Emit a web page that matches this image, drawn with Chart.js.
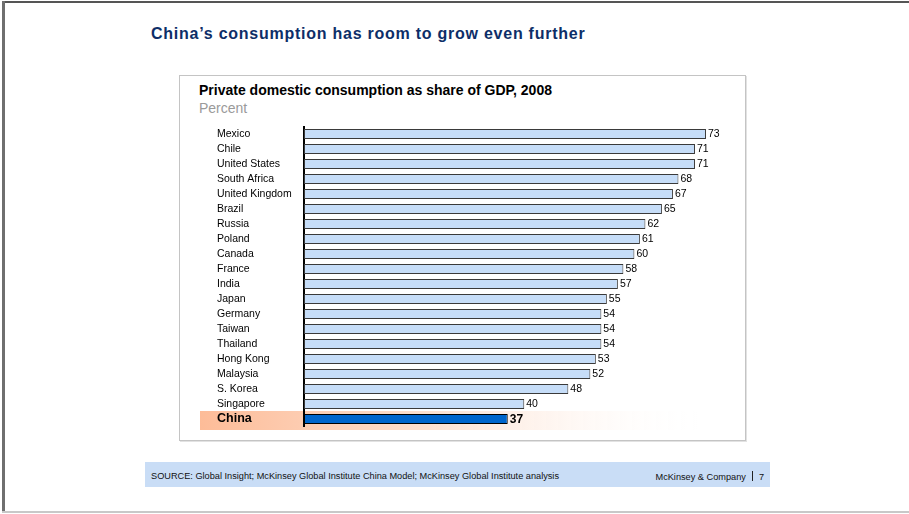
<!DOCTYPE html>
<html>
<head>
<meta charset="utf-8">
<script src="https://cdn.jsdelivr.net/npm/chart.js@4.4.1/dist/chart.umd.min.js"></script>
<style>
  html, body { margin: 0; padding: 0; background: #fff; }
  body { width: 909px; height: 514px; position: relative; overflow: hidden; font-family: "Liberation Sans", Arial, sans-serif; }
  .page-top { position: absolute; left: 2px; top: 1px; width: 907px; height: 2px; background: #555; }
  .page-left { position: absolute; left: 2px; top: 1px; width: 3px; height: 512px; background: #6f6f6f; }
  .page-bottom { position: absolute; left: 2px; top: 511px; width: 907px; height: 2px; background: #c8c8c8; }
  .headline { position: absolute; left: 151px; top: 25px; font-size: 16px; font-weight: bold; letter-spacing: 0.75px; color: #0d2e68; }
  .frame { position: absolute; left: 179px; top: 75px; width: 565px; height: 364px; border: 1px solid #c4c4c4; box-shadow: 1px 1px 0 #e2e2e2; }
  .chart-title { position: absolute; left: 199px; top: 82px; font-size: 14px; font-weight: bold; color: #000; }
  .chart-unit { position: absolute; left: 199px; top: 100px; font-size: 14px; color: #9a9a9a; }
  .footer { position: absolute; left: 145px; top: 462px; width: 625px; height: 25px; background: #c9ddf6; font-size: 9.2px; color: #111; }
  .footer .src { position: absolute; left: 6px; top: 9px; }
  .footer .brand { position: absolute; right: 6px; top: 9px; }
  .footer .sep { display: inline-block; width: 1px; height: 10px; background: #222; margin: 0 6px; vertical-align: -1px; }
  canvas { position: absolute; left: 0; top: 0; }
</style>
</head>
<body>
<div class="page-top"></div>
<div class="page-left"></div>
<div class="page-bottom"></div>
<div class="headline">China’s consumption has room to grow even further</div>
<div class="frame"></div>
<div class="chart-title">Private domestic consumption as share of GDP, 2008</div>
<div class="chart-unit">Percent</div>
<div class="footer">
  <span class="src">SOURCE: Global Insight; McKinsey Global Institute China Model; McKinsey Global Institute analysis</span>
  <span class="brand">McKinsey &amp; Company<span class="sep"></span>7</span>
</div>
<canvas id="consumptionChart" width="909" height="514"></canvas>
<script>
"use strict";

// countries, top to bottom
const countries = [
  "Mexico", "Chile", "United States", "South Africa", "United Kingdom",
  "Brazil", "Russia", "Poland", "Canada", "France", "India", "Japan",
  "Germany", "Taiwan", "Thailand", "Hong Kong", "Malaysia", "S. Korea",
  "Singapore", "China"
];

// private consumption, % of GDP
const shareOfGdp = [73, 71, 71, 68, 67, 65, 62, 61, 60, 58, 57, 55, 54, 54, 54, 53, 52, 48, 40, 37];

const highlight = "China";

const barFill = countries.map((c) => (c === highlight ? "#0066cc" : "#c6ddf8"));
const barEdge = countries.map((c) => (c === highlight ? "#000000" : "#3a3a3a"));

// peach band behind the highlighted row (drawn first so the label sits on top)
const highlightBand = {
  id: "highlightBand",
  beforeDraw(chart) {
    const ctx = chart.ctx;
    const y = chart.scales.y.getPixelForValue(countries.indexOf(highlight));
    const grad = ctx.createLinearGradient(200, 0, 705, 0);
    grad.addColorStop(0, "#fdbc98");
    grad.addColorStop(0.45, "#fde0cf");
    grad.addColorStop(1, "rgba(255,255,255,0)");
    ctx.save();
    ctx.fillStyle = grad;
    ctx.fillRect(200, y - 8, 505, 19);
    ctx.restore();
  }
};

// value labels at the end of each bar
const valueLabels = {
  id: "valueLabels",
  afterDatasetsDraw(chart) {
    const ctx = chart.ctx;
    const bars = chart.getDatasetMeta(0).data;
    ctx.save();
    ctx.textBaseline = "middle";
    ctx.textAlign = "left";
    bars.forEach((bar, i) => {
      const isHi = countries[i] === highlight;
      ctx.font = isHi ? "bold 12px 'Liberation Sans', Arial" : "10.5px 'Liberation Sans', Arial";
      ctx.fillStyle = "#000";
      ctx.fillText(shareOfGdp[i], bar.x + 2, bar.y + (isHi ? 1 : 0.5));
    });
    ctx.restore();
  }
};

const ctx = document.getElementById("consumptionChart").getContext("2d");
new Chart(ctx, {
  type: "bar",
  data: {
    labels: countries,
    datasets: [
      {
        data: shareOfGdp,
        backgroundColor: barFill,
        borderColor: barEdge,
        borderWidth: 1,
        borderSkipped: false,
        barPercentage: 0.68,
        categoryPercentage: 1
      }
    ]
  },
  options: {
    indexAxis: "y",
    responsive: false,
    animation: false,
    events: [],
    layout: {
      padding: { left: 217, right: 192, top: 126.5, bottom: 87.5 }
    },
    scales: {
      x: {
        display: false,
        min: 0,
        max: 75
      },
      y: {
        grid: { display: false, drawTicks: false },
        border: { display: true, color: "#000", width: 2 },
        afterFit(scale) {
          scale.width = 87;
        },
        ticks: {
          autoSkip: false,
          crossAlign: "far",
          padding: 0,
          color: "#000",
          font: (c) =>
            countries[c.index] === highlight
              ? { family: "'Liberation Sans', Arial", size: 12.5, weight: "bold" }
              : { family: "'Liberation Sans', Arial", size: 10.5 }
        }
      }
    },
    plugins: {
      legend: { display: false },
      tooltip: { enabled: false }
    }
  },
  plugins: [highlightBand, valueLabels]
});
</script>
</body>
</html>
